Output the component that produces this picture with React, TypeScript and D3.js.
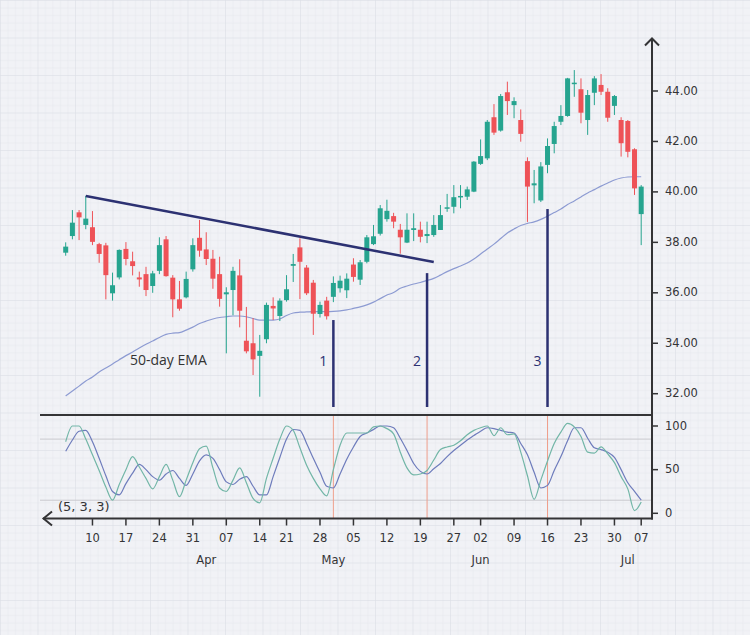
import React from "react";
import * as d3 from "d3";

// ---------- DATA ----------
const dates = [
  "2014-03-04","2014-03-05","2014-03-06","2014-03-07",
  "2014-03-10","2014-03-11","2014-03-12","2014-03-13","2014-03-14",
  "2014-03-17","2014-03-18","2014-03-19","2014-03-20","2014-03-21",
  "2014-03-24","2014-03-25","2014-03-26","2014-03-27","2014-03-28",
  "2014-03-31","2014-04-01","2014-04-02","2014-04-03","2014-04-04",
  "2014-04-07","2014-04-08","2014-04-09","2014-04-10","2014-04-11",
  "2014-04-14","2014-04-15","2014-04-16","2014-04-17",
  "2014-04-21","2014-04-22","2014-04-23","2014-04-24","2014-04-25",
  "2014-04-28","2014-04-29","2014-04-30","2014-05-01","2014-05-02",
  "2014-05-05","2014-05-06","2014-05-07","2014-05-08","2014-05-09",
  "2014-05-12","2014-05-13","2014-05-14","2014-05-15","2014-05-16",
  "2014-05-19","2014-05-20","2014-05-21","2014-05-22","2014-05-23",
  "2014-05-27","2014-05-28","2014-05-29","2014-05-30",
  "2014-06-02","2014-06-03","2014-06-04","2014-06-05","2014-06-06",
  "2014-06-09","2014-06-10","2014-06-11","2014-06-12","2014-06-13",
  "2014-06-16","2014-06-17","2014-06-18","2014-06-19","2014-06-20",
  "2014-06-23","2014-06-24","2014-06-25","2014-06-26","2014-06-27",
  "2014-06-30","2014-07-01","2014-07-02","2014-07-03","2014-07-07",
];

const open = [
  37.59,38.25,39.19,38.69,38.60,37.93,37.88,35.98,36.61,37.74,
  37.25,36.61,36.74,36.27,36.87,38.12,36.60,35.74,35.82,36.93,
  38.18,37.72,37.35,36.74,35.94,36.11,36.69,34.10,34.00,33.50,
  34.16,35.48,35.08,35.71,37.07,37.80,37.00,36.40,35.16,35.69,
  35.84,36.18,36.10,37.12,36.52,37.23,37.93,38.34,38.92,39.04,
  38.50,37.99,38.49,38.50,38.25,38.29,38.49,39.33,39.41,39.79,
  39.81,40.01,41.11,41.33,42.96,42.43,43.95,43.44,42.85,41.22,
  40.26,39.66,41.07,41.90,42.78,43.01,44.27,44.07,42.85,43.93,
  44.24,43.97,43.41,42.85,42.81,41.69,39.12,
];
const high = [
  38.00,39.28,39.28,39.84,39.24,37.98,37.98,36.80,37.72,38.01,
  37.63,36.84,37.03,36.87,38.20,38.25,36.70,36.47,36.84,38.16,
  38.89,38.40,37.70,37.43,36.22,37.03,37.33,35.44,35.00,34.33,
  35.61,35.82,35.78,36.70,37.54,38.16,37.10,36.51,35.65,35.84,
  36.65,36.68,36.77,37.37,37.30,38.29,38.69,39.48,39.69,39.17,
  38.73,39.15,39.15,38.82,38.82,39.08,39.48,39.92,40.27,40.27,
  40.21,41.22,42.08,42.85,43.48,43.88,44.37,43.75,43.27,41.37,
  40.87,41.18,42.12,42.78,43.44,44.52,44.83,44.50,44.04,44.59,
  44.67,44.11,43.84,42.96,42.85,41.73,40.27,
];
const low = [
  37.47,38.12,38.09,38.52,37.89,37.19,35.74,35.69,36.53,37.09,
  36.69,36.24,35.87,36.00,36.74,36.64,35.03,35.29,35.78,36.84,
  37.43,37.10,36.16,35.45,33.60,35.11,34.63,33.60,32.74,31.88,
  34.00,34.92,34.88,35.65,36.43,35.75,35.91,34.33,35.02,34.94,
  35.63,36.01,35.79,36.44,36.31,37.17,37.89,38.27,38.82,38.56,
  37.55,37.97,38.05,38.00,37.97,38.22,38.49,39.21,39.15,39.35,
  39.68,39.99,41.07,41.26,42.26,42.39,43.05,42.92,41.99,38.81,
  39.55,39.60,40.74,41.53,42.65,42.98,43.77,42.72,42.26,43.44,
  43.84,42.78,43.05,41.40,41.37,39.88,37.89,
];
const close = [
  37.83,38.78,38.99,38.94,38.02,37.54,36.70,36.30,37.70,37.34,
  37.06,36.53,36.11,36.77,37.89,36.66,35.74,35.37,36.55,37.89,
  37.67,37.34,36.56,35.76,36.02,36.87,35.29,33.68,33.36,33.70,
  35.52,35.38,35.69,36.14,37.14,37.23,35.98,35.17,35.52,35.07,
  36.39,36.48,36.56,36.63,37.21,38.20,38.24,39.35,39.25,38.82,
  38.20,38.50,38.56,38.22,38.33,38.69,39.08,39.39,39.79,39.84,
  40.10,41.20,41.42,42.78,42.35,43.80,43.60,43.60,42.30,40.21,
  40.34,41.01,41.82,42.61,43.01,44.50,44.33,43.14,43.84,44.50,
  43.97,42.94,43.80,41.93,41.59,40.14,40.21,
];

const ema50 = [
  31.91,32.11,32.30,32.50,32.66,32.86,33.02,33.18,33.35,33.51,
  33.65,33.81,33.96,34.09,34.23,34.35,34.40,34.42,34.52,34.64,
  34.78,34.88,34.96,35.02,35.05,35.08,35.08,35.05,34.98,34.92,
  34.92,34.92,34.96,35.10,35.20,35.23,35.24,35.25,35.25,35.25,
  35.26,35.28,35.32,35.38,35.44,35.52,35.63,35.77,35.91,36.01,
  36.18,36.27,36.35,36.41,36.49,36.57,36.70,36.84,36.96,37.06,
  37.18,37.34,37.54,37.74,37.93,38.15,38.37,38.53,38.67,38.75,
  38.81,38.91,39.04,39.18,39.32,39.50,39.64,39.80,39.96,40.09,
  40.23,40.35,40.47,40.55,40.59,40.60,40.60,
];

const stochK = [
  82,100,100,85,67,49,30,15,33,50,
  65,53,40,28,42,56,38,19,38,58,
  74,77,52,29,25,38,52,35,17,12,
  40,63,85,100,95,75,55,40,28,20,
  50,78,92,92,92,92,99,100,97,91,
  70,52,44,45,49,61,73,76,78,83,
  90,95,98,100,89,98,90,91,70,43,
  16,38,60,80,93,103,99,88,70,69,
  76,68,58,42,28,3,13,
];
const stochD = [
  71,84,94,95,82,63,43,25,21,34,
  46,56,50,42,38,45,49,40,32,45,
  60,67,63,50,36,33,39,42,31,21,
  21,42,64,85,96,95,80,63,47,31,
  29,45,62,76,88,92,96,100,100,98,
  86,72,57,48,45,51,57,65,72,78,
  84,89,94,98,97,95,93,92,80,67,
  47,29,32,49,65,83,98,98,86,75,
  73,70,64,50,35,25,15,
];

const priceTicks = [32, 34, 36, 38, 40, 42, 44];
const oscTicks = [0, 50, 100];
const oscBands = [15, 85];
const dateTicks = [
  "2014-03-10","2014-03-17","2014-03-24","2014-03-31","2014-04-07","2014-04-14",
  "2014-04-21","2014-04-28","2014-05-05","2014-05-12","2014-05-19","2014-05-27",
  "2014-06-02","2014-06-09","2014-06-16","2014-06-23","2014-06-30","2014-07-07",
];
const monthLabels = ["Apr", "May", "Jun", "Jul"];
const monthAnchors = ["2014-04-02", "2014-04-30", "2014-06-02", "2014-07-02"];
const signalLabels = ["1", "2", "3"];
const signalDates = ["2014-04-30", "2014-05-20", "2014-06-16"];
const signalTops = [34.92, 36.78, 39.32];
const trendDates = ["2014-03-07", "2014-05-21"];
const trendPrices = [39.84, 37.22];

// ---------- STYLE ----------
const W = 750, H = 635;
const AXIS_X = 652;
const MAIN_BOTTOM = 415;
const LOWER_AXIS_Y = 518.5;
const UP = "#26a48f";
const DOWN = "#ee5257";
const NAVY = "#2c3172";
const INK = "#343436";
const FONT = "DejaVu Sans, sans-serif";

export default function App() {
  const x = d3.scalePoint<string>().domain(dates).range([65.7, 641.2]);
  const y = d3.scaleLinear().domain([32, 44]).range([393.7, 91]);
  const yo = d3.scaleLinear().domain([0, 100]).range([513.3, 426]);

  const idx = d3.range(dates.length);
  const emaLine = d3.line<number>().x(i => x(dates[i])!).y(i => y(ema50[i])).curve(d3.curveMonotoneX);
  const kLine = d3.line<number>().x(i => x(dates[i])!).y(i => yo(stochK[i])).curve(d3.curveMonotoneX);
  const dLine = d3.line<number>().x(i => x(dates[i])!).y(i => yo(stochD[i])).curve(d3.curveMonotoneX);
  const bw = 5;

  return (
    <svg width={W} height={H} style={{ position: "absolute", left: 0, top: 0 }}
      xmlns="http://www.w3.org/2000/svg">
      <defs>
        <pattern id="minor" width="7.5" height="7.5" patternUnits="userSpaceOnUse">
          <path d="M7.5 0 L0 0 L0 7.5" fill="none" stroke="#e4e6ec" strokeWidth="1" />
        </pattern>
        <pattern id="major" width="37.5" height="37.5" patternUnits="userSpaceOnUse">
          <rect width="37.5" height="37.5" fill="url(#minor)" />
          <path d="M37.5 0 L0 0 L0 37.5" fill="none" stroke="#dcdfe6" strokeWidth="1" />
        </pattern>
      </defs>
      <rect width={W} height={H} fill="#f1f2f6" />
      <rect width={W} height={H} fill="url(#major)" />

      {/* oscillator bands */}
      {oscBands.map(b => (
        <line key={b} x1={40} x2={AXIS_X} y1={yo(b)} y2={yo(b)} stroke="#c9c9ce" strokeWidth={1} />
      ))}

      {/* signal markers in oscillator */}
      {signalDates.map(d => (
        <line key={"p" + d} x1={x(d)} x2={x(d)} y1={MAIN_BOTTOM} y2={LOWER_AXIS_Y}
          stroke="#ef9f8c" strokeWidth={1} />
      ))}

      {/* stochastic */}
      <path d={dLine(idx)!} fill="none" stroke="#6e7cbc" strokeWidth={1.2} />
      <path d={kLine(idx)!} fill="none" stroke="#72b6a7" strokeWidth={1.2} />

      {/* EMA */}
      <path d={emaLine(idx)!} fill="none" stroke="#8d9bd2" strokeWidth={1.2} />

      {/* candles */}
      {idx.map(i => {
        const cx = x(dates[i])!;
        const up = close[i] >= open[i];
        const col = up ? UP : DOWN;
        const top = y(Math.max(open[i], close[i]));
        const bot = y(Math.min(open[i], close[i]));
        return (
          <g key={dates[i]}>
            <line x1={cx} x2={cx} y1={y(high[i])} y2={y(low[i])} stroke={col} strokeWidth={1} />
            <rect x={cx - bw / 2} y={top} width={bw} height={Math.max(1.5, bot - top)} fill={col} />
          </g>
        );
      })}

      {/* trendline */}
      <line x1={x(trendDates[0])} y1={y(trendPrices[0])} x2={x(trendDates[1])} y2={y(trendPrices[1])}
        stroke={NAVY} strokeWidth={2.5} />

      {/* signal vertical lines */}
      {signalDates.map((d, k) => (
        <g key={"s" + d}>
          <line x1={x(d)} x2={x(d)} y1={y(signalTops[k])} y2={MAIN_BOTTOM - 8}
            stroke={NAVY} strokeWidth={2.5} />
          <text x={x(d)! - 10} y={362} textAnchor="middle" dominantBaseline="middle"
            fontFamily="Open Sans, sans-serif" fontSize={14} fill={NAVY}>{signalLabels[k]}</text>
        </g>
      ))}

      <text x={130} y={361} dominantBaseline="middle" fontFamily="Open Sans, sans-serif"
        fontSize={14} fill="#333">50-day EMA</text>

      {/* panel separators and axes */}
      <line x1={40} x2={AXIS_X} y1={MAIN_BOTTOM} y2={MAIN_BOTTOM} stroke={INK} strokeWidth={2} />
      <line x1={43} x2={AXIS_X + 1} y1={LOWER_AXIS_Y} y2={LOWER_AXIS_Y} stroke={INK} strokeWidth={2} />
      <polyline points={`52,511.5 43.5,${LOWER_AXIS_Y} 52,525.5`} fill="none" stroke={INK} strokeWidth={2} />
      <line x1={AXIS_X} x2={AXIS_X} y1={38} y2={LOWER_AXIS_Y + 1} stroke={INK} strokeWidth={2} />
      <polyline points={`645,45.5 ${AXIS_X},38.5 659,45.5`} fill="none" stroke={INK} strokeWidth={2} />

      {priceTicks.map(t => (
        <g key={"pt" + t}>
          <line x1={AXIS_X} x2={AXIS_X + 6} y1={y(t)} y2={y(t)} stroke={INK} strokeWidth={1.5} />
          <text x={AXIS_X + 13} y={y(t)} dominantBaseline="middle" fontFamily={FONT}
            fontSize={11.5} fill={INK}>{t.toFixed(2)}</text>
        </g>
      ))}
      {oscTicks.map(t => (
        <g key={"ot" + t}>
          <line x1={AXIS_X} x2={AXIS_X + 6} y1={yo(t)} y2={yo(t)} stroke={INK} strokeWidth={1.5} />
          <text x={AXIS_X + 13} y={yo(t)} dominantBaseline="middle" fontFamily={FONT}
            fontSize={11.5} fill={INK}>{t}</text>
        </g>
      ))}

      {dateTicks.map(d => (
        <g key={"dt" + d}>
          <line x1={x(d)} x2={x(d)} y1={LOWER_AXIS_Y} y2={LOWER_AXIS_Y + 7} stroke={INK} strokeWidth={1.5} />
          <text x={x(d)} y={538} textAnchor="middle" dominantBaseline="middle" fontFamily={FONT}
            fontSize={11.5} fill={INK}>{d3.timeFormat("%d")(d3.timeParse("%Y-%m-%d")(d)!)}</text>
        </g>
      ))}
      {monthLabels.map((m, k) => (
        <text key={m} x={x(monthAnchors[k])} y={560} textAnchor="middle" dominantBaseline="middle"
          fontFamily={FONT} fontSize={11.5} fill={INK}>{m}</text>
      ))}

      <text x={58} y={507} dominantBaseline="middle" fontFamily={FONT} fontSize={13} fill={INK}>(5, 3, 3)</text>
    </svg>
  );
}
